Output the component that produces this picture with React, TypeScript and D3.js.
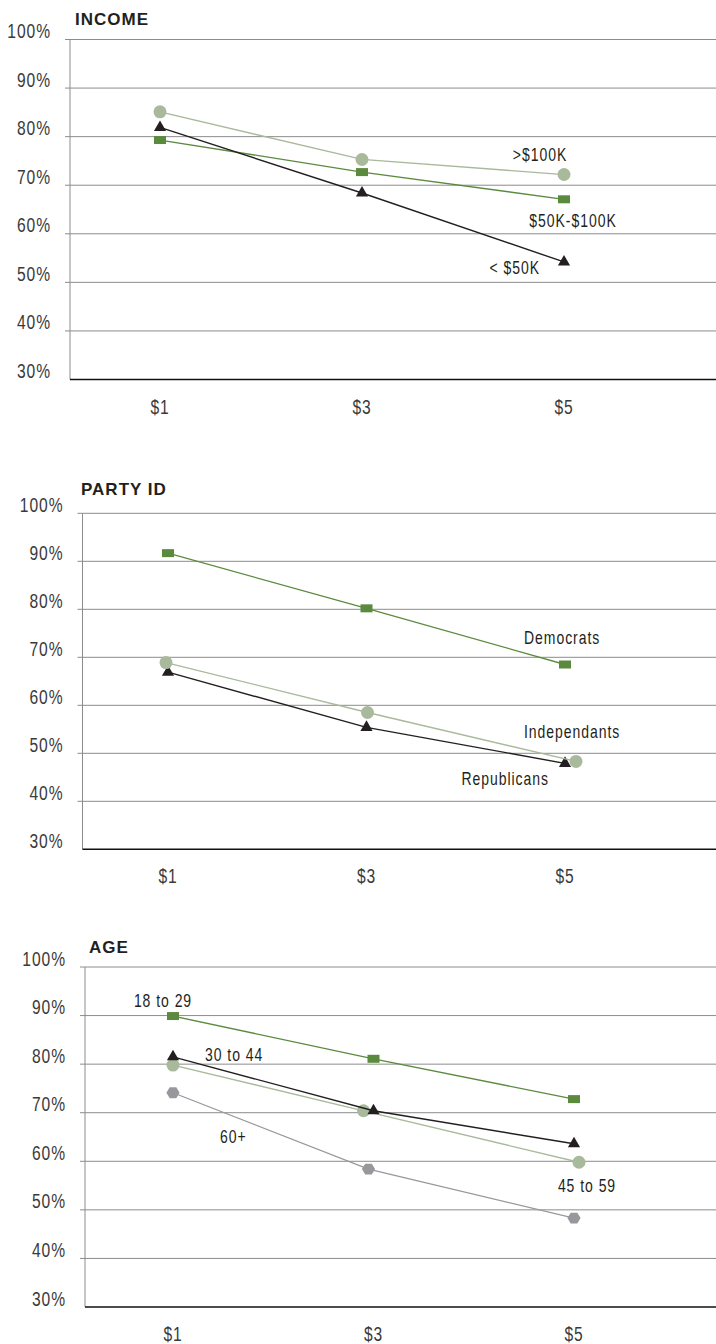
import React from "react";
import * as d3 from "d3";

// Price points offered and the percentage scale shared by all three panels
const PRICE_POINTS = ["$1", "$3", "$5"];
const PCT_TICKS = [30, 40, 50, 60, 70, 80, 90, 100];
const PANEL_TITLES = ["INCOME", "PARTY ID", "AGE"];

// Income panel (share willing to pay, %)
const incomeOver100k = [85.1, 75.3, 72.2];
const income50kTo100k = [79.3, 72.7, 67.1];
const incomeUnder50k = [81.9, 68.4, 54.2];
const INCOME_LABELS = [">$100K", "$50K-$100K", "< $50K"];

// Party ID panel
const partyDemocrats = [91.7, 80.2, 68.5];
const partyIndependents = [68.9, 58.5, 48.3];
const partyRepublicans = [66.9, 55.4, 47.9];
const PARTY_LABELS = ["Democrats", "Independants", "Republicans"];

// Age panel
const age18to29 = [89.9, 81.1, 72.8];
const age30to44 = [81.5, 70.4, 63.6];
const age45to59 = [79.8, 70.4, 59.8];
const age60plus = [74.1, 58.4, 48.3];
const AGE_LABELS = ["18 to 29", "30 to 44", "45 to 59", "60+"];

const WIDTH = 716;
const HEIGHT = 1344;
const TEXT_FONT = "'Liberation Sans', Arial, sans-serif";
const TITLE_FONT = "'Liberation Sans', Arial, sans-serif";
// horizontal squeeze used to give the regular face a condensed look
const CONDENSE = 0.8;

type Shape = "square" | "circle" | "triangle" | "hexagon";

const SHAPE_STYLE: Record<Shape, { fill: string; line: string; lineWidth: number }> = {
  square: { fill: "#5b8a3f", line: "#5b8a3f", lineWidth: 1.3 },
  circle: { fill: "#a9b99c", line: "#a9b99c", lineWidth: 1.3 },
  triangle: { fill: "#231f20", line: "#231f20", lineWidth: 1.4 },
  hexagon: { fill: "#97989c", line: "#97989c", lineWidth: 1.2 },
};

interface Series {
  values: number[];
  shape: Shape;
  label: string;
  labelAt: number;
  dx: number;
  dy: number;
  anchor: "start" | "middle" | "end";
  dodge?: number[];
}

interface Panel {
  title: string;
  left: number;
  top: number;
  bottom: number;
  xStart: number;
  xEnd: number;
  titleX: number;
  titleY: number;
  series: Series[];
}

const PANELS: Panel[] = [
  {
    title: PANEL_TITLES[0],
    left: 70,
    top: 39.5,
    bottom: 379.5,
    xStart: 160,
    xEnd: 564,
    titleX: 75,
    titleY: 25,
    series: [
      { values: incomeOver100k, shape: "circle", label: INCOME_LABELS[0], labelAt: 2, dx: -24, dy: -14, anchor: "middle" },
      { values: income50kTo100k, shape: "square", label: INCOME_LABELS[1], labelAt: 2, dx: 9, dy: 27.5, anchor: "middle" },
      { values: incomeUnder50k, shape: "triangle", label: INCOME_LABELS[2], labelAt: 2, dx: -24, dy: 12.5, anchor: "end" },
    ],
  },
  {
    title: PANEL_TITLES[1],
    left: 82.5,
    top: 513.3,
    bottom: 849.3,
    xStart: 168,
    xEnd: 565,
    titleX: 81,
    titleY: 495,
    series: [
      { values: partyDemocrats, shape: "square", label: PARTY_LABELS[0], labelAt: 2, dx: -41, dy: -21, anchor: "start" },
      { values: partyRepublicans, shape: "triangle", label: PARTY_LABELS[2], labelAt: 2, dx: -16, dy: 21.5, anchor: "end" },
      { values: partyIndependents, shape: "circle", label: PARTY_LABELS[1], labelAt: 2, dx: -41, dy: -23.5, anchor: "start", dodge: [-2, 1, 11] },
    ],
  },
  {
    title: PANEL_TITLES[2],
    left: 85,
    top: 967,
    bottom: 1307,
    xStart: 173,
    xEnd: 574,
    titleX: 89,
    titleY: 953,
    series: [
      { values: age60plus, shape: "hexagon", label: AGE_LABELS[3], labelAt: 0, dx: 47, dy: 50.5, anchor: "start", dodge: [0, -5, 0] },
      { values: age45to59, shape: "circle", label: AGE_LABELS[2], labelAt: 2, dx: 13, dy: 29.5, anchor: "middle", dodge: [0, -10, 5] },
      { values: age30to44, shape: "triangle", label: AGE_LABELS[1], labelAt: 0, dx: 32, dy: 4.3, anchor: "start" },
      { values: age18to29, shape: "square", label: AGE_LABELS[0], labelAt: 0, dx: -10, dy: -9.3, anchor: "middle" },
    ],
  },
];

function hexagonPath(r: number): string {
  const p = d3.path();
  for (let i = 0; i < 6; i++) {
    const a = (Math.PI / 3) * i;
    const px = r * Math.cos(a);
    const py = r * Math.sin(a) * 0.95;
    if (i === 0) p.moveTo(px, py);
    else p.lineTo(px, py);
  }
  p.closePath();
  return p.toString();
}

const trianglePath = d3.symbol().type(d3.symbolTriangle).size(64)() as string;
const hexPath = hexagonPath(6.6);

function Marker({ shape, cx, cy }: { shape: Shape; cx: number; cy: number }) {
  const fill = SHAPE_STYLE[shape].fill;
  switch (shape) {
    case "square":
      return <rect x={cx - 6} y={cy - 4} width={12} height={8} fill={fill} />;
    case "circle":
      return <circle cx={cx} cy={cy} r={6.5} fill={fill} />;
    case "triangle":
      return <path d={trianglePath} transform={`translate(${cx},${cy})`} fill={fill} />;
    case "hexagon":
      return <path d={hexPath} transform={`translate(${cx},${cy})`} fill={fill} />;
  }
}

function NarrowText({
  x,
  y,
  size,
  anchor,
  fill,
  children,
}: {
  x: number;
  y: number;
  size: number;
  anchor: "start" | "middle" | "end";
  fill: string;
  children: React.ReactNode;
}) {
  return (
    <g transform={`translate(${x},${y}) scale(${CONDENSE},1)`}>
      <text x={0} y={0} textAnchor={anchor} fontFamily={TEXT_FONT} fontSize={size} letterSpacing={1.2} fill={fill}>
        {children}
      </text>
    </g>
  );
}

function ChartPanel({ panel }: { panel: Panel }) {
  const y = d3.scaleLinear().domain([30, 100]).range([panel.bottom, panel.top]);
  const x = d3.scalePoint<string>().domain(PRICE_POINTS).range([panel.xStart, panel.xEnd]);

  return (
    <g>
      <text
        x={panel.titleX}
        y={panel.titleY}
        fontFamily={TITLE_FONT}
        fontWeight="bold"
        fontSize={17}
        letterSpacing={1}
        fill="#231f20"
      >
        {panel.title}
      </text>

      {/* horizontal gridlines with short ticks left of the axis */}
      {PCT_TICKS.filter((t) => t > 30).map((t) => (
        <line
          key={`g${t}`}
          x1={panel.left - 5}
          x2={WIDTH}
          y1={y(t)}
          y2={y(t)}
          stroke="#8c8c8c"
          strokeWidth={1}
        />
      ))}
      <line x1={panel.left} x2={panel.left} y1={y(100)} y2={y(30)} stroke="#8c8c8c" strokeWidth={1} />
      <line x1={panel.left} x2={WIDTH} y1={y(30)} y2={y(30)} stroke="#111" strokeWidth={1.6} />

      {PCT_TICKS.map((t) => (
        <NarrowText key={`t${t}`} x={panel.left - 19} y={y(t) - 1.5} size={19.5} anchor="end" fill="#3a3a3a">
          {`${t}%`}
        </NarrowText>
      ))}

      {PRICE_POINTS.map((p) => (
        <NarrowText key={p} x={x(p) as number} y={y(30) + 34} size={19.5} anchor="middle" fill="#3a3a3a">
          {p}
        </NarrowText>
      ))}

      {panel.series.map((s, si) => {
        const pts: [number, number][] = s.values.map((v, i) => [
          (x(PRICE_POINTS[i]) as number) + (s.dodge ? s.dodge[i] : 0),
          y(v),
        ]);
        const line = d3.line()(pts) as string;
        const style = SHAPE_STYLE[s.shape];
        const ax = x(PRICE_POINTS[s.labelAt]) as number;
        const ay = y(s.values[s.labelAt]);
        return (
          <g key={si}>
            <path d={line} fill="none" stroke={style.line} strokeWidth={style.lineWidth} />
            {pts.map(([cx, cy], i) => (
              <Marker key={i} shape={s.shape} cx={cx} cy={cy} />
            ))}
            <NarrowText x={ax + s.dx} y={ay + s.dy} size={17.5} anchor={s.anchor} fill="#231f20">
              {s.label}
            </NarrowText>
          </g>
        );
      })}
    </g>
  );
}

export default function App() {
  return (
    <svg
      width={WIDTH}
      height={HEIGHT}
      viewBox={`0 0 ${WIDTH} ${HEIGHT}`}
      style={{ position: "absolute", left: 0, top: 0, display: "block", background: "#fff" }}
    >
      <rect width={WIDTH} height={HEIGHT} fill="#fff" />
      {PANELS.map((p, i) => (
        <ChartPanel key={i} panel={p} />
      ))}
    </svg>
  );
}
